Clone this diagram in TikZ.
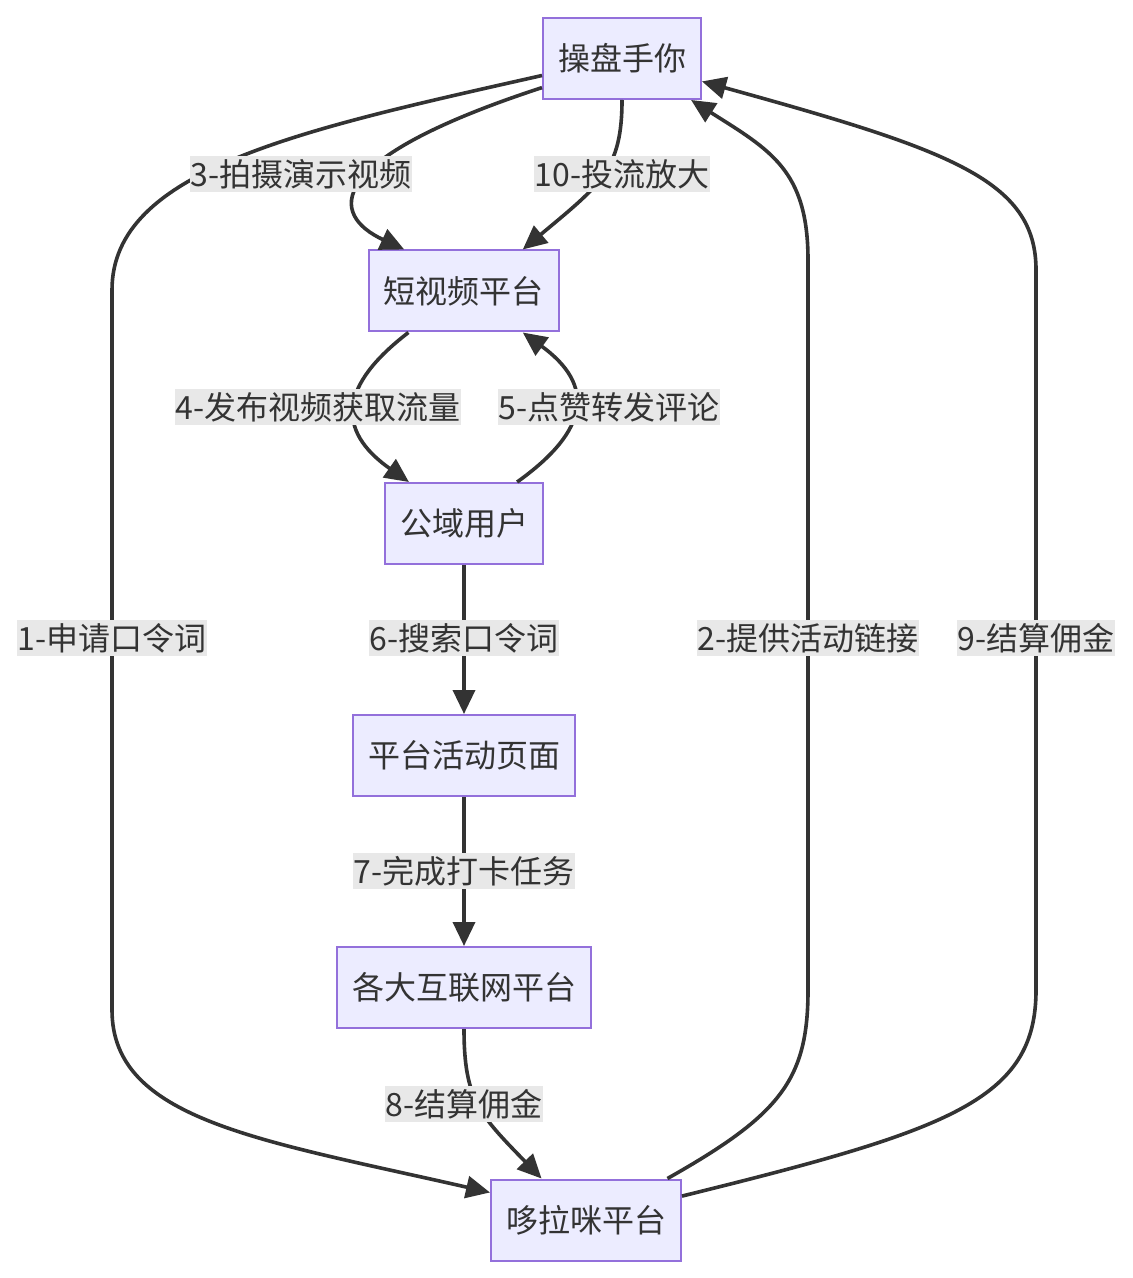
\documentclass[tikz,border=0pt]{standalone}
\usepackage{fontspec}
\setmainfont{Noto Sans CJK SC}
\usetikzlibrary{arrows.meta}
\definecolor{fondboite}{HTML}{ECECFF}
\definecolor{bordboite}{HTML}{9370DB}
\definecolor{trait}{HTML}{333333}
\definecolor{fondetiq}{HTML}{E8E8E8}
\begin{document}
\begin{tikzpicture}[x=0.5pt, y=-0.5pt,
                  boite/.style={draw=bordboite, fill=fondboite, line width=1pt, text=trait,
                                minimum height=40.5pt, inner xsep=7.5pt, font=\fontsize{16}{19}\selectfont},
                  fleche/.style={draw=trait, line width=1.8pt, -{Triangle[length=12pt,width=11pt]}},
                  etiquette/.style={fill=fondetiq, text=trait, inner xsep=0.5pt, inner ysep=1.5pt,
                                font=\fontsize{16}{19}\selectfont}]
\useasboundingbox (0,0) rectangle (1132,1278);
\foreach \n/\x/\y/\t in {op/622/58.5/操盘手你, svp/463.5/291/短视频平台, pub/464/523.5/公域用户,
                         page/464/755.5/平台活动页面, net/464/987.5/各大互联网平台, dlm/586/1220/哆拉咪平台}
  \node[boite] (\n) at (\x,\y) {\t};
% arcs
\draw[fleche] (op.192.5) .. controls (300,130) and (112,170) .. (112,290) -- (112,1010)
              .. controls (112,1120) and (260,1140) .. (dlm.164);
\draw[fleche] (dlm.27.5) .. controls (780,1115) and (808,1080) .. (808,990) -- (808,260)
              .. controls (808,170) and (770,150) .. (op.-31.4);
\draw[fleche] (op.200) .. controls (320,160) and (330,215) .. (svp.145.5);
\draw[fleche] (op.south) .. controls (622,170) and (600,185) .. (svp.35.3);
\draw[fleche] (svp.217.8) .. controls (340,385) and (335,430) .. (pub.143.1);
\draw[fleche] (pub.38.5) .. controls (590,430) and (595,385) .. (svp.-35.3);
\foreach \a/\b in {pub/page, page/net}
  \draw[fleche] (\a) -- (\b);
\draw[fleche] (net.south) .. controls (464,1100) and (480,1115) .. (dlm.137.7);
\draw[fleche] (dlm.14.7) .. controls (950,1130) and (1036,1100) .. (1036,990) -- (1036,270)
              .. controls (1036,180) and (950,150) .. (op.-16.6);
% etiquettes
\foreach \n/\x/\y/\t in {l1/112/638/1-申请口令词, l2/808/638/2-提供活动链接, l3/301/174/3-拍摄演示视频,
                         l4/318/407/4-发布视频获取流量, l5/609/407/5-点赞转发评论, l6/464/638/6-搜索口令词,
                         l7/464/871/7-完成打卡任务, l8/464/1104/8-结算佣金, l9/1036/638/9-结算佣金,
                         l10/622/174/10-投流放大}
  \node[etiquette] (\n) at (\x,\y) {\t};
\end{tikzpicture}
\end{document}
